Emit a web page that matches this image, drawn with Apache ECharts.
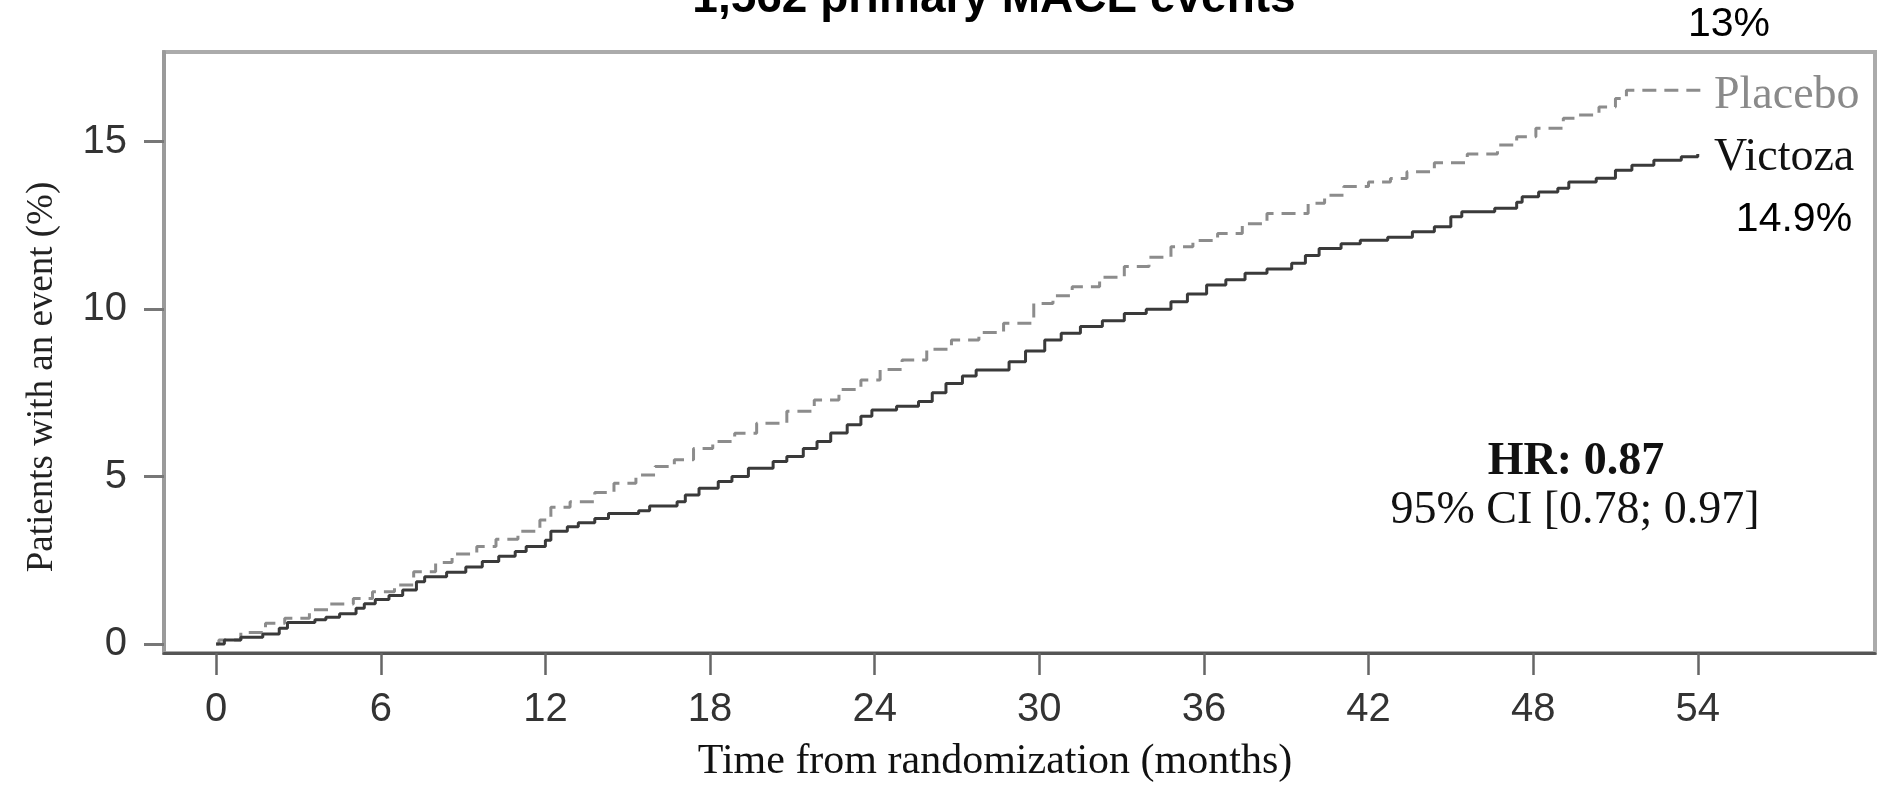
<!DOCTYPE html>
<html>
<head>
<meta charset="utf-8">
<title>Primary MACE events</title>
<script src="https://cdn.jsdelivr.net/npm/echarts@6/dist/echarts.min.js"></script>
<style>
  html, body { margin: 0; padding: 0; background: #fff; }
  #km-chart { width: 1878px; height: 786px; }
</style>
</head>
<body>
<div id="km-chart"></div>
<script>
// 数据
var xTicks = [0, 6, 12, 18, 24, 30, 36, 42, 48, 54];
var yTicks = [0, 5, 10, 15];

var victozaMonths = [0, 0.3, 0.9, 1.7, 2.3, 2.6, 3.6, 4.0, 4.5, 5.1, 5.4, 5.8, 6.3, 6.8, 7.3, 7.6,
  8.4, 9.1, 9.7, 10.3, 10.9, 11.3, 12.0, 12.2, 12.8, 13.2, 13.8, 14.3, 15.4, 15.8, 16.8, 17.1,
  17.6, 18.3, 18.8, 19.4, 20.3, 20.8, 21.4, 21.9, 22.4, 23.0, 23.5, 23.9, 24.8, 25.6, 26.1, 26.6,
  27.2, 27.7, 28.9, 29.5, 30.2, 30.8, 31.5, 32.3, 33.1, 33.9, 34.8, 35.4, 36.1, 36.8, 37.5, 38.3,
  39.2, 39.7, 40.2, 41.0, 41.7, 42.7, 43.6, 44.4, 45.0, 45.4, 46.6, 47.4, 47.6, 48.2, 48.9, 49.3,
  50.3, 51.0, 51.6, 52.4, 53.4, 54.0];
var victozaPct = [0, 0.12, 0.20, 0.30, 0.47, 0.64, 0.72, 0.80, 0.90, 1.07, 1.20, 1.33, 1.45, 1.61, 1.86, 2.01,
  2.14, 2.30, 2.46, 2.62, 2.76, 2.91, 3.10, 3.37, 3.50, 3.62, 3.75, 3.90, 3.98, 4.12, 4.25, 4.45,
  4.65, 4.85, 5.00, 5.25, 5.45, 5.60, 5.84, 6.05, 6.30, 6.55, 6.80, 6.99, 7.10, 7.24, 7.50, 7.78,
  8.00, 8.18, 8.43, 8.75, 9.08, 9.28, 9.48, 9.65, 9.87, 10.00, 10.22, 10.45, 10.72, 10.88, 11.07, 11.20,
  11.37, 11.60, 11.81, 11.95, 12.06, 12.15, 12.31, 12.46, 12.76, 12.91, 13.01, 13.19, 13.36, 13.50, 13.61, 13.80,
  13.91, 14.15, 14.30, 14.45, 14.55, 14.63];

var placeboMonths = [0, 0.1, 0.9, 1.8, 2.5, 3.4, 4.1, 5.0, 5.7, 6.5, 7.2, 8.0, 8.6, 9.5, 10.2, 11.0,
  11.8, 12.2, 12.9, 13.8, 14.5, 15.3, 16.0, 16.7, 17.4, 18.1, 18.9, 19.7, 20.8, 21.8, 22.7, 23.5,
  24.2, 25.0, 25.9, 26.8, 27.8, 28.7, 29.8, 30.5, 31.2, 32.2, 33.1, 34.0, 34.8, 35.6, 36.5, 37.4,
  38.3, 39.8, 40.4, 41.1, 42.0, 42.8, 43.4, 44.4, 45.6, 46.7, 47.4, 48.1, 49.1, 49.6, 50.4, 51.0,
  51.4, 54.3];
var placeboPct = [0, 0.12, 0.34, 0.62, 0.77, 1.02, 1.19, 1.36, 1.56, 1.76, 2.16, 2.43, 2.69, 2.91, 3.13, 3.37,
  3.70, 4.08, 4.25, 4.52, 4.80, 5.05, 5.30, 5.50, 5.84, 6.05, 6.29, 6.59, 6.95, 7.29, 7.60, 7.88,
  8.20, 8.48, 8.80, 9.08, 9.30, 9.58, 10.17, 10.40, 10.67, 10.95, 11.27, 11.55, 11.86, 12.05, 12.26, 12.55,
  12.86, 13.16, 13.40, 13.66, 13.80, 13.90, 14.10, 14.37, 14.63, 14.90, 15.15, 15.40, 15.70, 15.80, 16.04, 16.29,
  16.54, 16.56];

// 配对成 [x, y]
function pairs(xs, ys) {
  var out = [];
  for (var i = 0; i < xs.length; i++) {
    out.push([xs[i], ys[i]]);
  }
  return out;
}

var serif = '"Liberation Serif", "DejaVu Serif", serif';
var sans = '"Liberation Sans", "DejaVu Sans", sans-serif';

// 初始化
var kmChart = echarts.init(document.getElementById('km-chart'), null, { renderer: 'canvas' });

var option = {
  animation: false,
  backgroundColor: '#fff',
  grid: {
    left: 164,
    top: 52,
    right: 3,
    bottom: 133,
    show: true,
    borderColor: '#ababab',
    borderWidth: 4
  },
  xAxis: {
    type: 'value',
    min: -1.9,
    max: 60.46,
    axisLine: { show: true, onZero: false, lineStyle: { color: '#555', width: 3 } },
    axisTick: { show: true, customValues: xTicks, length: 22, lineStyle: { color: '#666', width: 2.5 } },
    axisLabel: { customValues: xTicks, margin: 37, color: '#333', fontSize: 40, fontFamily: sans },
    splitLine: { show: false }
  },
  yAxis: {
    type: 'value',
    min: -0.27,
    max: 17.68,
    axisLine: { show: true, onZero: false, lineStyle: { color: '#9a9a9a', width: 4 } },
    axisTick: { show: true, customValues: yTicks, length: 20, lineStyle: { color: '#777', width: 3 } },
    axisLabel: { customValues: yTicks, margin: 37, color: '#333', fontSize: 40, fontFamily: sans },
    splitLine: { show: false }
  },
  series: [
    {
      name: 'Placebo',
      type: 'line',
      step: 'end',
      symbol: 'none',
      data: pairs(placeboMonths, placeboPct),
      lineStyle: { color: '#8c8c8c', width: 3, type: [14, 8] }
    },
    {
      name: 'Victoza',
      type: 'line',
      step: 'end',
      symbol: 'none',
      data: pairs(victozaMonths, victozaPct),
      lineStyle: { color: '#3a3a3a', width: 3 }
    }
  ],
  // 文字标注
  graphic: [
    { type: 'text', x: 994, y: 22, style: { text: '1,562 primary MACE events', font: 'bold 46px ' + sans, fill: '#000', align: 'center', verticalAlign: 'bottom' } },
    { type: 'text', x: 1729, y: 25, style: { text: '13%', font: '41px ' + sans, fill: '#000', align: 'center', verticalAlign: 'middle' } },
    { type: 'text', x: 1794, y: 220, style: { text: '14.9%', font: '41px ' + sans, fill: '#000', align: 'center', verticalAlign: 'middle' } },
    { type: 'text', x: 1714, y: 96, style: { text: 'Placebo', font: '46px ' + serif, fill: '#8a8a8a', align: 'left', verticalAlign: 'middle' } },
    { type: 'text', x: 1714, y: 158, style: { text: 'Victoza', font: '46px ' + serif, fill: '#111', align: 'left', verticalAlign: 'middle' } },
    { type: 'text', x: 1576, y: 462, style: { text: 'HR: 0.87', font: 'bold 46px ' + serif, fill: '#111', align: 'center', verticalAlign: 'middle' } },
    { type: 'text', x: 1575, y: 511, style: { text: '95% CI [0.78; 0.97]', font: '46px ' + serif, fill: '#111', align: 'center', verticalAlign: 'middle' } },
    { type: 'text', x: 995, y: 762, style: { text: 'Time from randomization (months)', font: '42px ' + serif, fill: '#111', align: 'center', verticalAlign: 'middle' } },
    { type: 'text', x: 42, y: 377, rotation: Math.PI / 2, style: { text: 'Patients with an event (%)', font: '37px ' + serif, fill: '#222', align: 'center', verticalAlign: 'middle' } }
  ]
};

// 应用配置
kmChart.setOption(option);
</script>
</body>
</html>
